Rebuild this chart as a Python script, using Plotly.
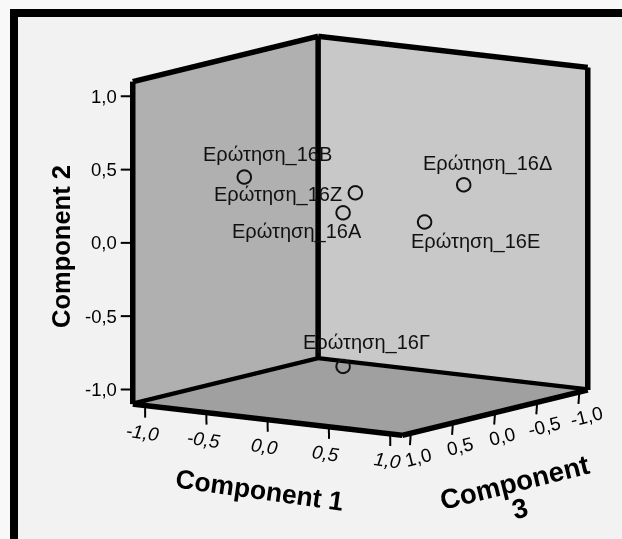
import plotly.graph_objects as go

labels = ["Ερώτηση_16Β", "Ερώτηση_16Ζ", "Ερώτηση_16Α", "Ερώτηση_16Δ", "Ερώτηση_16Ε", "Ερώτηση_16Γ"]
component1 = [-0.40, 0.30, 0.20, 0.60, 0.70, 0.20]
component2 = [0.476, 0.394, 0.248, 0.358, 0.20, -0.80]
component3 = [0.80, 0.50, 0.50, -0.35, 0.26, 0.50]
tick_values = [-1.0, -0.5, 0.0, 0.5, 1.0]
tick_labels = ["-1,0", "-0,5", "0,0", "0,5", "1,0"]
label_shift = [(24, -22), (-77, 2), (-46, 19), (24, -21), (51, 20), (24, -24)]

R = 1.1      # half-size of the drawn box
Q = 1.35     # half-size of the scene (room for ticks outside the box)
FONT = "Liberation Sans"

# view basis (plotly normalized coordinates, y reversed) for the parallel projection
right = (0.824, 0.567, 0.0)
up = (-0.104, 0.134, 0.99)
view = (0.561, -0.816, 0.169)
base_px = 269.0             # pixels per normalized unit with aspect 1
aspect = 454.0 * Q / (374.0 * R)
shift_x, shift_y = -49.5 / base_px, -33.5 / base_px
center = [shift_x * right[i] + shift_y * up[i] for i in range(3)]
eye = [center[i] + 2.0 * view[i] for i in range(3)]

px_unit = 327.0 / (2 * R)
tick_len = 12 / px_unit
down_dir = (-up[0], up[1], -up[2])       # data coordinates (comp 3 axis flipped)
left_dir = (-right[0], right[1], 0.0)
front = 0.06
toward = (view[0] * front, -view[1] * front, view[2] * front)   # no screen shift in a parallel view

fig = go.Figure()


def wall(name, xs, ys, zs, color):
    fig.add_trace(go.Mesh3d(x=xs, y=ys, z=zs, i=[0, 0], j=[1, 2], k=[2, 3], color=color, flatshading=True,
                            lighting=dict(ambient=1, diffuse=0, specular=0, fresnel=0, roughness=1),
                            hoverinfo="skip", showscale=False, name=name))


def segment(a, b, width):
    fig.add_trace(go.Scatter3d(x=[a[0] + toward[0], b[0] + toward[0]], y=[a[1] + toward[1], b[1] + toward[1]],
                               z=[a[2] + toward[2], b[2] + toward[2]], mode="lines",
                               line=dict(color="black", width=width), showlegend=False, hoverinfo="skip"))


wall("left", [-R, -R, -R, -R], [R, -R, -R, R], [-R, -R, R, R], "#b0b0b0")
wall("right", [-R, R, R, -R], [-R, -R, -R, -R], [-R, -R, R, R], "#c8c8c8")
wall("floor", [-R, R, R, -R], [R, R, -R, -R], [-R, -R, -R, -R], "#a0a0a0")

edges = [
    ((-R, R, -R), (R, R, -R)), ((R, R, -R), (R, -R, -R)), ((R, -R, -R), (-R, -R, -R)),
    ((-R, -R, -R), (-R, R, -R)), ((-R, R, -R), (-R, R, R)), ((-R, -R, -R), (-R, -R, R)),
    ((R, -R, -R), (R, -R, R)), ((-R, R, R), (-R, -R, R)), ((-R, -R, R), (R, -R, R)),
]
for a, b in edges:
    segment(a, b, 11)

annots = []
for v, t in zip(tick_values, tick_labels):
    segs = [
        ((v, R, -R), down_dir),
        ((R, v, -R), (down_dir[0] - 0.1, down_dir[1], down_dir[2])),
        ((-R, R, v), left_dir),
    ]
    for p, d in segs:
        segment(p, (p[0] + d[0] * tick_len, p[1] + d[1] * tick_len, p[2] + d[2] * tick_len), 4)
    annots.append(dict(x=v, y=R, z=-R, text=f"<i>{t}</i>", showarrow=False, xshift=-3, yshift=-27, textangle=8,
                       font=dict(family=FONT, size=19, color="black")))
    annots.append(dict(x=R, y=v, z=-R, text=t, showarrow=False, xshift=7, yshift=-24, textangle=-14,
                       font=dict(family=FONT, size=19, color="black")))
    annots.append(dict(x=-R, y=R, z=v, text=t, showarrow=False, xanchor="right", xshift=-14, yshift=0,
                       font=dict(family=FONT, size=18.5, color="black")))

fig.add_trace(go.Scatter3d(x=component1, y=component3, z=component2, mode="markers", text=labels,
                           marker=dict(symbol="circle-open", size=8.5, color="#111111",
                                       line=dict(color="#111111", width=1.5)),
                           showlegend=False))

for c1, c2, c3, t, s in zip(component1, component2, component3, labels, label_shift):
    annots.append(dict(x=c1, y=c3, z=c2, text=t, showarrow=False, xshift=s[0], yshift=-s[1],
                       font=dict(family=FONT, size=20, color="#111111")))

hidden = dict(visible=False, range=[-Q, Q])
fig.update_layout(
    width=622, height=539, margin=dict(l=0, r=0, t=0, b=0), paper_bgcolor="#f2f2f2",
    scene=dict(
        domain=dict(x=[0, 1], y=[0, 1]), aspectmode="manual", aspectratio=dict(x=aspect, y=aspect, z=aspect),
        xaxis=hidden, yaxis=dict(visible=False, range=[Q, -Q]), zaxis=hidden,
        camera=dict(projection=dict(type="orthographic"),
                    eye=dict(x=eye[0], y=eye[1], z=eye[2]), up=dict(x=0, y=0, z=1),
                    center=dict(x=center[0], y=center[1], z=center[2])),
        annotations=annots,
    ),
    annotations=[
        dict(text="<b>Component 2</b>", x=61 / 622, y=1 - 247 / 539, xref="paper", yref="paper", showarrow=False,
             xanchor="center", yanchor="middle", textangle=-90, font=dict(family=FONT, size=25.5, color="black")),
        dict(text="<b>Component 1</b>", x=259 / 622, y=1 - 490 / 539, xref="paper", yref="paper", showarrow=False,
             xanchor="center", yanchor="middle", textangle=8, font=dict(family=FONT, size=26.5, color="black")),
        dict(text="<b>Component</b>", x=514 / 622, y=1 - 482 / 539, xref="paper", yref="paper", showarrow=False,
             xanchor="center", yanchor="middle", textangle=-14, font=dict(family=FONT, size=27.5, color="black")),
        dict(text="<b>3</b>", x=519 / 622, y=1 - 508 / 539, xref="paper", yref="paper", showarrow=False,
             xanchor="center", yanchor="middle", textangle=-14, font=dict(family=FONT, size=27.5, color="black")),
    ],
)
fig.add_shape(type="rect", xref="paper", yref="paper", x0=0, x1=10 / 622, y0=0, y1=1, fillcolor="#f8f8f8", line_width=0)
fig.add_shape(type="rect", xref="paper", yref="paper", x0=0, x1=1, y0=1 - 9 / 539, y1=1, fillcolor="#f8f8f8", line_width=0)
fig.add_shape(type="rect", xref="paper", yref="paper", x0=10 / 622, x1=18 / 622, y0=0, y1=1 - 9 / 539, fillcolor="black", line_width=0)
fig.add_shape(type="rect", xref="paper", yref="paper", x0=10 / 622, x1=1, y0=1 - 17 / 539, y1=1 - 9 / 539, fillcolor="black", line_width=0)
fig.write_html("out.html", config={"displayModeBar": False},
               post_script="document.body.style.margin='0';document.body.style.overflow='hidden';")
